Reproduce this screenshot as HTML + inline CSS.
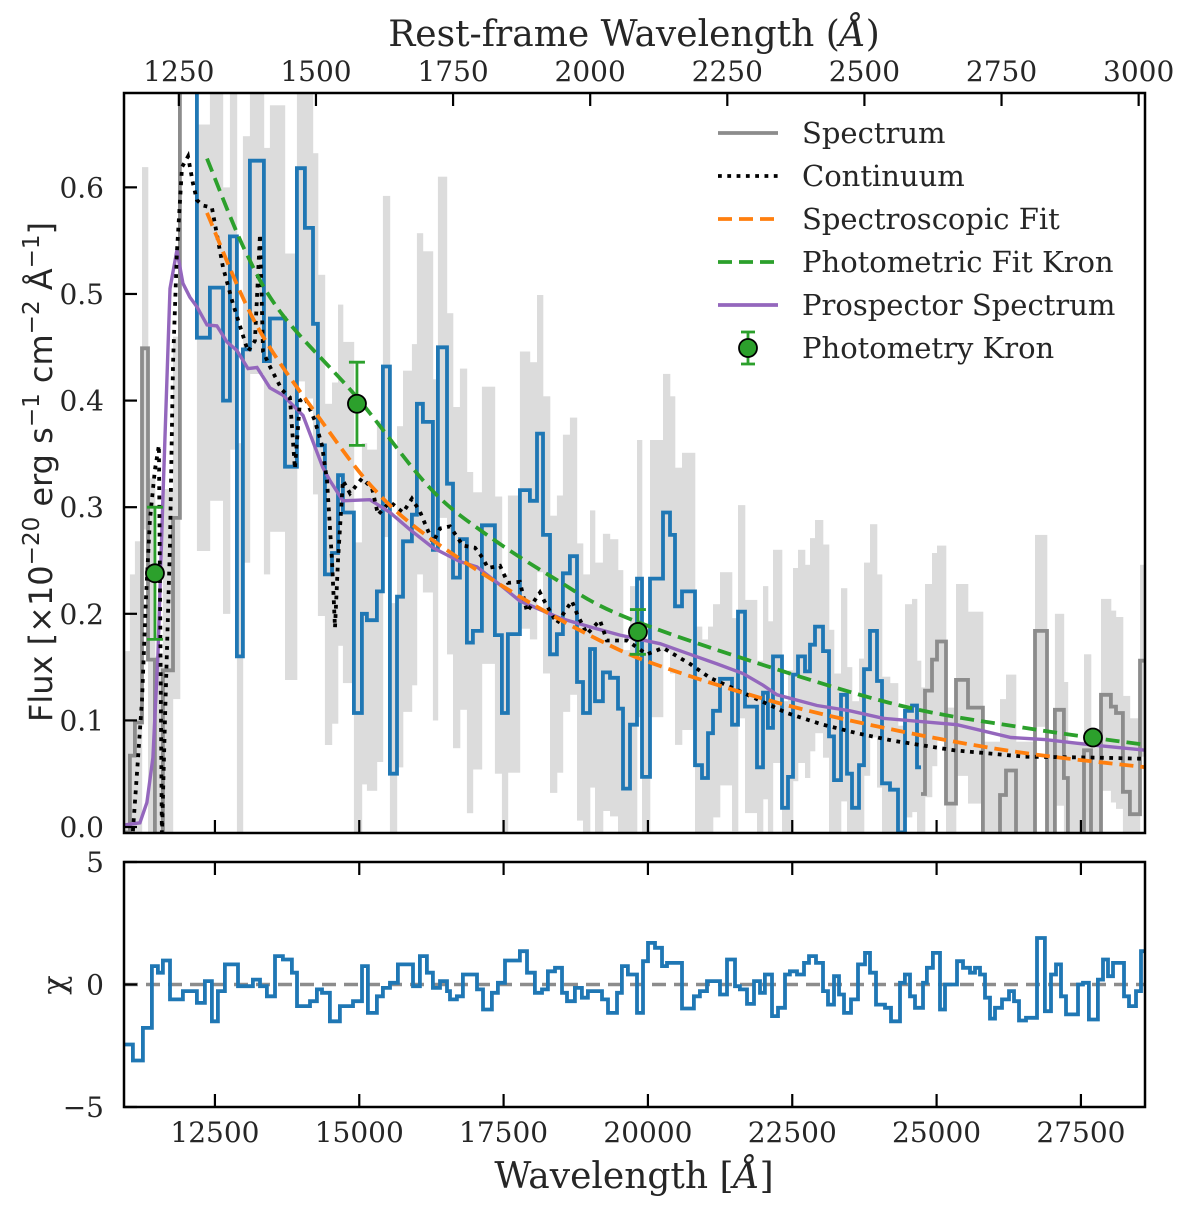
<!DOCTYPE html>
<html><head><meta charset="utf-8">
<style>
html,body{margin:0;padding:0;background:#fff;}
svg{display:block;}
text{fill:#262626;}
.serif{font-family:"DejaVu Serif","Liberation Serif",serif;}
.sans{font-family:"DejaVu Sans","Liberation Sans",sans-serif;}
</style></head>
<body>
<svg id="chart" width="1200" height="1211" viewBox="0 0 1200 1211" xmlns="http://www.w3.org/2000/svg">
<defs>
<clipPath id="clipMain"><rect x="124" y="93" width="1021" height="740"/></clipPath>
<clipPath id="clipRes"><rect x="124" y="862" width="1021" height="245"/></clipPath>
</defs>
<g id="mainPlot" clip-path="url(#clipMain)"></g>
<g id="resPlot" clip-path="url(#clipRes)"></g>
<g id="axes"></g>
<g id="legend"></g>
</svg>
<script>
// ---------- data ----------
const maskedLoEdges = [10924,11028,11114,11236,11340,11461,11599,11773,11894,12188];
const maskedLoFlux = [-0.005,0.067,0.098,0.449,0.157,-0.01,0.147,0.29,0.9];
const fitEdges = [12120,12188,12413,12639,12760,12881,12985,13106,13349,13453,13713,13920,14059,14198,14284,14405,14527,14631,14717,14908,15046,15133,15306,15410,15531,15653,15757,15912,15999,16103,16276,16363,16519,16623,16744,16865,16969,17125,17350,17471,17575,17783,17956,18078,18182,18303,18424,18528,18649,18771,18875,18996,19083,19221,19343,19481,19568,19689,19810,19897,20036,20261,20382,20469,20590,20815,20936,21040,21127,21248,21456,21560,21681,21889,21993,22079,22166,22322,22426,22513,22599,22720,22807,22894,23032,23136,23223,23344,23448,23535,23656,23743,23846,23968,24055,24193,24331,24453,24574,24661,24730];
const fitFlux = [0.9,0.459,0.506,0.40,0.554,0.16,0.448,0.625,0.437,0.477,0.338,0.618,0.562,0.472,0.358,0.237,0.257,0.33,0.295,0.107,0.20,0.194,0.221,0.432,0.05,0.216,0.268,0.293,0.397,0.38,0.26,0.45,0.322,0.234,0.27,0.173,0.184,0.283,0.18,0.107,0.181,0.316,0.306,0.369,0.274,0.162,0.181,0.238,0.254,0.136,0.107,0.167,0.118,0.145,0.14,0.111,0.036,0.096,0.233,0.047,0.233,0.295,0.274,0.207,0.221,0.058,0.046,0.088,0.109,0.139,0.096,0.202,0.113,0.056,0.126,0.093,0.16,0.018,0.047,0.143,0.16,0.146,0.171,0.188,0.165,0.085,0.044,0.124,0.05,0.018,0.058,0.148,0.184,0.137,0.041,0.035,-0.005,0.109,0.114,0.056];
const maskedHiEdges = [24730,24799,24920,25007,25163,25336,25544,25803,26098,26202,26375,26704,26912,27050,27206,27275,27553,27674,27847,28020,28107,28228,28349,28523,28627];
const maskedHiFlux = [0.031,0.128,0.157,0.174,0.022,0.138,0.112,-0.01,0.03,0.053,-0.01,0.184,-0.01,0.11,0.046,-0.01,0.072,-0.01,0.124,0.113,0.107,0.033,0.012,0.156];
const errRegionEdges = [10924,12188,14000,17000,21000,25000,28627];
const errRegionLevel = [0.17,0.2,0.16,0.13,0.1,0.09];

const contWave = [11080,11166,11236,11305,11374,11461,11530,11582,11634,11721,11773,11842,11929,12033,12119,12188,12292,12448,12639,12812,13072,13193,13280,13332,13453,13661,13799,13886,13973,14059,14232,14354,14441,14527,14579,14631,14717,14839,15047,15220,15324,15532,15757,15912,16051,16276,16398,16571,16796,17004,17143,17229,17437,17575,17783,17905,18130,18216,18424,18684,18771,18944,19169,19290,19637,19983,20261,20728,21075,21646,22408,23032,23621,24245,25301,26531,27813,28627];
const contFlux = [-0.004,0.063,0.119,0.213,0.288,0.335,0.358,-0.01,0.098,0.266,0.434,0.539,0.619,0.629,0.604,0.588,0.583,0.581,0.525,0.491,0.446,0.456,0.556,0.446,0.432,0.41,0.403,0.336,0.40,0.403,0.381,0.358,0.325,0.25,0.187,0.25,0.325,0.313,0.327,0.318,0.293,0.305,0.295,0.308,0.296,0.267,0.28,0.282,0.264,0.262,0.252,0.243,0.245,0.229,0.23,0.202,0.22,0.211,0.191,0.212,0.20,0.181,0.194,0.175,0.175,0.162,0.168,0.153,0.14,0.126,0.107,0.096,0.088,0.081,0.072,0.066,0.065,0.064];

const specFitWave = [12362,13228,14371,15272,16224,17783,19169,20209,22287,24366,26444,28627];
const specFitFlux = [0.576,0.47,0.379,0.316,0.271,0.216,0.175,0.151,0.116,0.09,0.07,0.056];

const photFitWave = [12362,13020,13678,14960,16224,17212,18355,19516,21768,24366,26531,28627];
const photFitFlux = [0.627,0.541,0.48,0.403,0.318,0.274,0.234,0.199,0.156,0.114,0.093,0.077];

const prospWave = [10941,11201,11322,11426,11513,11599,11721,11842,11946,12067,12188,12362,12535,12708,12881,13072,13228,13453,13678,14025,14371,14492,14717,15185,15532,15878,16276,16744,17039,17489,17783,18476,19048,19516,20209,20728,21196,21646,21993,22235,22928,23500,24072,25353,26288,26877,27690,28627];
const prospFlux = [0.002,0.004,0.023,0.065,0.161,0.308,0.505,0.541,0.51,0.497,0.488,0.471,0.47,0.455,0.447,0.43,0.431,0.412,0.405,0.386,0.337,0.325,0.306,0.307,0.295,0.279,0.262,0.249,0.244,0.225,0.212,0.196,0.187,0.18,0.172,0.162,0.153,0.144,0.133,0.124,0.114,0.109,0.102,0.096,0.084,0.082,0.077,0.072];

const photWave = [11461,14960,19827,27709];
const photFlux = [0.238,0.397,0.183,0.084];
const photErr = [0.062,0.039,0.021,0.004];

const resEdges = [10924,11080,11253,11409,11513,11599,11721,11946,12188,12327,12448,12552,12673,12899,13158,13280,13401,13540,13678,13834,13921,14146,14267,14354,14492,14665,14891,15047,15150,15306,15410,15532,15670,15930,16051,16172,16276,16398,16519,16571,16692,16796,17039,17143,17298,17402,17524,17783,17905,18043,18165,18268,18390,18511,18598,18736,18857,18961,19204,19308,19464,19550,19654,19810,19914,20001,20122,20243,20330,20590,20797,20901,21023,21248,21369,21508,21594,21716,21837,21941,22027,22149,22253,22374,22460,22582,22703,22790,22911,23032,23119,23223,23309,23396,23517,23638,23760,23846,23950,24106,24210,24366,24452,24539,24626,24764,24833,24937,25059,25145,25353,25457,25578,25665,25752,25838,25925,26011,26133,26254,26341,26427,26548,26739,26877,26981,27068,27155,27241,27449,27536,27639,27795,27882,27969,28055,28246,28333,28454,28541,28627];
const resChi = [-2.45,-3.1,-1.77,0.75,0.48,0.98,-0.61,-0.27,-0.75,0.14,-1.5,-0.27,0.82,-0.07,0.2,-0.07,-0.48,1.16,1.02,0.48,-0.88,-0.68,-0.2,-0.34,-1.5,-0.88,-0.68,0.75,-1.16,-0.48,-0.14,0.07,0.82,-0.07,1.16,0.48,-0.14,0.14,-0.27,-0.61,-0.48,0.41,-0.2,-1.02,-0.34,0.07,0.98,1.36,0.48,-0.34,-0.2,0.54,0.68,-0.34,-0.68,-0.14,-0.54,-0.27,-0.61,-1.16,-0.34,0.75,0.41,-1.16,0.95,1.7,1.5,0.75,0.88,-0.98,-0.48,-0.27,0.14,-0.41,1.02,-0.07,-0.2,-0.79,0.14,-0.34,0.41,-1.29,-0.95,0.41,0.54,0.41,0.88,1.16,0.88,-0.27,-0.82,0.34,-0.41,-1.16,-0.61,0.82,1.29,0.48,-0.82,-0.95,-1.5,0.07,0.41,-0.48,-0.95,0.07,0.68,1.29,-1.02,0,0.95,0.68,0.48,0.68,0.41,-0.54,-1.39,-0.95,-0.61,-0.27,-0.68,-1.47,-1.36,1.9,-1.09,0.41,0.82,-0.48,-1.22,0,0.07,-1.43,0.2,1.02,0.34,0.88,-0.48,-0.88,-0.27,1.36];

const obsTicks = [12500,15000,17500,20000,22500,25000,27500];
const obsTickLabels = ["12500","15000","17500","20000","22500","25000","27500"];
const restTicks = [1250,1500,1750,2000,2250,2500,2750,3000];
const fluxTicks = [0.0,0.1,0.2,0.3,0.4,0.5,0.6];
const fluxTickLabels = ["0.0","0.1","0.2","0.3","0.4","0.5","0.6"];
const chiTicks = [-5,0,5];
const redshiftFactor = 9.5;

// ---------- scales ----------
const X0 = 124, X1 = 1145, WMIN = 10925, WMAX = 28610;
function xs(w){ return X0 + (w - WMIN) / (WMAX - WMIN) * (X1 - X0); }
const YT = 93, YB = 833, FMAX = 0.6885, FMIN = -0.0056;
function ys(f){ return YB - (f - FMIN) / (FMAX - FMIN) * (YB - YT); }
const RT = 862, RB = 1107;
function yr(c){ return RB - (c + 5) / 10 * (RB - RT); }

const NS = "http://www.w3.org/2000/svg";
function mk(tag, attrs, parent){
  const e = document.createElementNS(NS, tag);
  for (const k in attrs) e.setAttribute(k, attrs[k]);
  parent.appendChild(e);
  return e;
}
function stepPath(edges, vals, yfn){
  const n = Math.min(edges.length - 1, vals.length);
  let d = "M" + xs(edges[0]).toFixed(1) + "," + yfn(vals[0]).toFixed(1);
  for (let i = 0; i < n; i++){
    if (i > 0) d += "V" + yfn(vals[i]).toFixed(1);
    d += "H" + xs(edges[i+1]).toFixed(1);
  }
  return d;
}
function linePath(ws, fs){
  let d = "";
  for (let i = 0; i < ws.length; i++) d += (i ? "L" : "M") + xs(ws[i]).toFixed(1) + "," + ys(fs[i]).toFixed(1);
  return d;
}
function smoothPath(ws, fs){
  const p = ws.map((w, i) => [xs(w), ys(fs[i])]);
  let d = "M" + p[0][0].toFixed(1) + "," + p[0][1].toFixed(1);
  for (let i = 0; i < p.length - 1; i++){
    const p0 = p[Math.max(0, i-1)], p1 = p[i], p2 = p[i+1], p3 = p[Math.min(p.length-1, i+2)];
    const c1 = [p1[0] + (p2[0]-p0[0])/6, p1[1] + (p2[1]-p0[1])/6];
    const c2 = [p2[0] - (p3[0]-p1[0])/6, p2[1] - (p3[1]-p1[1])/6];
    d += "C" + c1.map(v=>v.toFixed(1)).join(",") + " " + c2.map(v=>v.toFixed(1)).join(",") + " " + p2[0].toFixed(1) + "," + p2[1].toFixed(1);
  }
  return d;
}
function errAt(w){
  for (let i = 0; i < errRegionLevel.length; i++) if (w < errRegionEdges[i+1]) return errRegionLevel[i];
  return errRegionLevel[errRegionLevel.length-1];
}

const main = document.getElementById("mainPlot");
const res = document.getElementById("resPlot");
const axes = document.getElementById("axes");
const leg = document.getElementById("legend");
const LW = 3.8;

// error band (light gray) for every bin
const bandG = mk("g", {}, main);


[[maskedLoEdges, maskedLoFlux], [fitEdges.slice(1), fitFlux.slice(1)], [maskedHiEdges, maskedHiFlux]].forEach(([E, V]) => {
  for (let i = 0; i < Math.min(E.length - 1, V.length); i++){
    const e = errAt((E[i] + E[i+1]) / 2);
    const yTop = ys(V[i] + e), yBot = ys(V[i] - e);
    const r = mk("rect", {x: xs(E[i]).toFixed(1), y: yTop.toFixed(1), width: (xs(E[i+1]) - xs(E[i]) + 0.3).toFixed(1), height: (yBot - yTop).toFixed(1), fill: "#dcdcdc"}, bandG);
    
    
  }
});

// masked spectrum (gray)
const sLo = mk("path", {d: stepPath(maskedLoEdges, maskedLoFlux, ys), fill: "none", stroke: "#8c8c8c", "stroke-width": LW}, main);


const sHi = mk("path", {d: stepPath(maskedHiEdges, maskedHiFlux, ys), fill: "none", stroke: "#8c8c8c", "stroke-width": LW}, main);



// fitted spectrum (blue)
const sFit = mk("path", {d: stepPath(fitEdges, fitFlux, ys), fill: "none", stroke: "#1f77b4", "stroke-width": LW, "stroke-linejoin": "miter"}, main);



// prospector
const pr = mk("path", {d: linePath(prospWave, prospFlux), fill: "none", stroke: "#9467bd", "stroke-width": 3.4}, main);



// continuum
const co = mk("path", {d: linePath(contWave, contFlux), fill: "none", stroke: "#000", "stroke-width": 3.8, "stroke-dasharray": "3.8,5.5"}, main);



// spectroscopic fit
const sf = mk("path", {d: smoothPath(specFitWave, specFitFlux), fill: "none", stroke: "#ff7f0e", "stroke-width": LW, "stroke-dasharray": "14,7"}, main);



// photometric fit
const pf = mk("path", {d: smoothPath(photFitWave, photFitFlux), fill: "none", stroke: "#2ca02c", "stroke-width": LW, "stroke-dasharray": "14,7"}, main);



// photometry points
for (let i = 0; i < photWave.length; i++){
  const g = mk("g", {}, main);
  
  
  const x = xs(photWave[i]), yt = ys(photFlux[i] + photErr[i]), yb = ys(photFlux[i] - photErr[i]);
  mk("line", {x1: x, x2: x, y1: yt, y2: yb, stroke: "#2ca02c", "stroke-width": 2.8}, g);
  mk("line", {x1: x-8, x2: x+8, y1: yt, y2: yt, stroke: "#2ca02c", "stroke-width": 2.8}, g);
  mk("line", {x1: x-8, x2: x+8, y1: yb, y2: yb, stroke: "#2ca02c", "stroke-width": 2.8}, g);
  mk("circle", {cx: x, cy: ys(photFlux[i]), r: 9, fill: "#2ca02c", stroke: "#000", "stroke-width": 1.8}, g);
}

// residuals
const zl = mk("line", {x1: 124, x2: 1145, y1: yr(0), y2: yr(0), stroke: "#8c8c8c", "stroke-width": 3.4, "stroke-dasharray": "14,8"}, res);


const rp = mk("path", {d: stepPath(resEdges, resChi, yr), fill: "none", stroke: "#1f77b4", "stroke-width": LW}, res);



// ---------- axes ----------
function frame(y0, y1, name){
  const r = mk("rect", {x: 124, y: y0, width: 1021, height: y1 - y0, fill: "none", stroke: "#000", "stroke-width": 2.5}, axes);
  
  
}
frame(93, 833, 'main-axes-frame');
frame(862, 1107, 'residual-axes-frame');
function txt(s, x, y, anchor, size, cls, name){
  const t = mk("text", {x: x, y: y, "text-anchor": anchor, "font-size": size, class: cls}, axes);
  t.textContent = s;
  
  
  return t;
}
obsTicks.forEach((w, i) => {
  const x = xs(w);
  mk("line", {x1: x, x2: x, y1: 833, y2: 820, stroke: "#000", "stroke-width": 2.2}, axes);
  mk("line", {x1: x, x2: x, y1: 1107, y2: 1094, stroke: "#000", "stroke-width": 2.2}, axes);
  mk("line", {x1: x, x2: x, y1: 862, y2: 875, stroke: "#000", "stroke-width": 2.2}, axes);
  txt(obsTickLabels[i], x, 1142, "middle", 28, "serif", "x-tick-label");
});
restTicks.forEach(r => {
  const x = xs(r * redshiftFactor);
  mk("line", {x1: x, x2: x, y1: 93, y2: 106, stroke: "#000", "stroke-width": 2.2}, axes);
  txt(String(r), x, 81, "middle", 28, "serif", "top-x-tick-label");
});
fluxTicks.forEach((f, i) => {
  const y = ys(f);
  mk("line", {x1: 124, x2: 137, y1: y, y2: y, stroke: "#000", "stroke-width": 2.2}, axes);
  txt(fluxTickLabels[i], 104, y + 10, "end", 28, "serif", "y-tick-label");
});
chiTicks.forEach(c => {
  const y = yr(c);
  mk("line", {x1: 124, x2: 137, y1: y, y2: y, stroke: "#000", "stroke-width": 2.2}, axes);
  txt(c < 0 ? "\u2212" + Math.abs(c) : String(c), 104, y + 10, "end", 28, "serif", "chi-tick-label");
});
const xt = txt("", 634, 1188, "middle", 36, "serif", "x-axis-title");
xt.innerHTML = 'Wavelength [<tspan font-style="italic">\u00C5</tspan>]';
const tt = txt("", 634, 46, "middle", 36, "serif", "top-x-axis-title");
tt.innerHTML = 'Rest-frame Wavelength (<tspan font-style="italic">\u00C5</tspan>)';
const chiL = txt("\u03C7", 55, 995, "middle", 32, "serif", "residual-axis-title");
chiL.setAttribute("transform", "rotate(-90 55 985)");
const yl = mk("text", {x: 0, y: 0, "text-anchor": "middle", "font-size": 32, class: "sans", transform: "translate(52,472) rotate(-90)"}, axes);


yl.innerHTML = 'Flux [\u00D710<tspan dy="-13" font-size="23">\u221220</tspan><tspan dy="13"> erg s</tspan><tspan dy="-13" font-size="23">\u22121</tspan><tspan dy="13"> cm</tspan><tspan dy="-13" font-size="23">\u22122</tspan><tspan dy="13"> \u00C5</tspan><tspan dy="-13" font-size="23">\u22121</tspan><tspan dy="13">]</tspan>';

// ---------- legend ----------
const legItems = [
  ["Spectrum", "gray"], ["Continuum", "dot"], ["Spectroscopic Fit", "orange"],
  ["Photometric Fit Kron", "green"], ["Prospector Spectrum", "purple"], ["Photometry Kron", "point"]
];
legItems.forEach((it, i) => {
  const y = 133 + i * 43;
  const g = mk("g", {}, leg);
  
  
  if (it[1] === "point"){
    mk("line", {x1: 748, x2: 748, y1: y-16, y2: y+16, stroke: "#2ca02c", "stroke-width": 2.8}, g);
    mk("line", {x1: 741, x2: 755, y1: y-16, y2: y-16, stroke: "#2ca02c", "stroke-width": 2.8}, g);
    mk("line", {x1: 741, x2: 755, y1: y+16, y2: y+16, stroke: "#2ca02c", "stroke-width": 2.8}, g);
    mk("circle", {cx: 748, cy: y, r: 9, fill: "#2ca02c", stroke: "#000", "stroke-width": 1.8}, g);
  } else {
    const st = {gray: ["#8c8c8c", ""], dot: ["#000", "3.8,5.5"], orange: ["#ff7f0e", "14,7"], green: ["#2ca02c", "14,7"], purple: ["#9467bd", ""]}[it[1]];
    const a = {x1: 718, x2: 778, y1: y, y2: y, stroke: st[0], "stroke-width": LW};
    if (st[1]) a["stroke-dasharray"] = st[1];
    mk("line", a, g);
  }
  const t = mk("text", {x: 802, y: y + 10, "font-size": 29, class: "serif"}, g);
  t.textContent = it[0];
});
</script>
</body></html>
